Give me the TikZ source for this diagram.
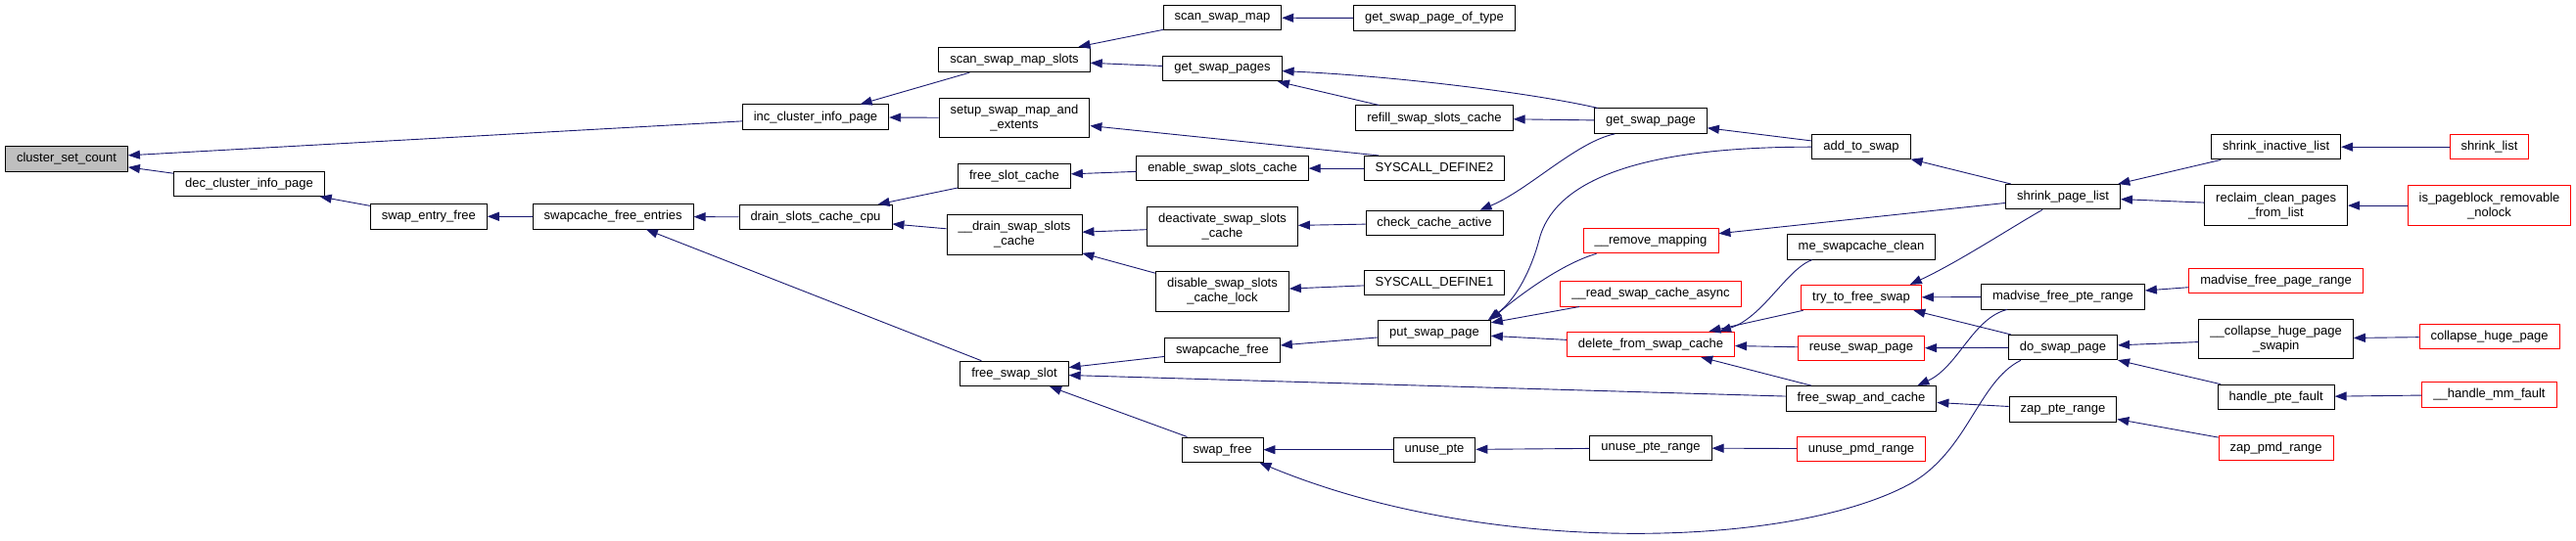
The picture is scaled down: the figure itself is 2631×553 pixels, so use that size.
\documentclass[tikz,border=0pt]{standalone}
\usepackage{fontspec}
\setmainfont{Liberation Sans}
\usetikzlibrary{positioning, arrows.meta}
\definecolor{edgeblue}{RGB}{25,25,112}
\definecolor{rootgray}{RGB}{191,191,191}

\begin{document}
\begin{tikzpicture}[
  x=1pt, y=-1pt,
  fn/.style={rectangle, draw=black, line width=0.9pt, fill=white,
             font=\fontsize{13}{15}\selectfont, inner xsep=11.5pt,
             inner ysep=1pt, minimum height=25.5pt, align=center},
  fn2/.style={fn, minimum height=40.5pt},
  trunc/.style={draw=red},
  root/.style={fill=rootgray},
  arr/.style={-{Triangle[length=12pt, width=9pt]}, draw=edgeblue,
              line width=0.9pt}
]
  \useasboundingbox (0,0) rectangle (2631,553);

  % Root and first ranks
  \node[fn, root] (csc)  at (68,162.3)    {cluster\_set\_count};
  \node[fn]       (dcip) at (254.5,187.8) {dec\_cluster\_info\_page};
  \node[fn]       (sef)  at (437.8,221.3) {swap\_entry\_free};
  \node[fn]       (sfe)  at (626.2,221.3) {swapcache\_free\_entries};
  \node[fn]       (icip) at (833,119.7)   {inc\_cluster\_info\_page};
  \node[fn, below=76pt of icip] (dscc) {drain\_slots\_cache\_cpu};

  % Column of scan_swap_map_slots
  \node[fn] (smsl) at (1036,61) {scan\_swap\_map\_slots};
  \node[fn2, below=25.7pt of smsl] (ssme) {setup\_swap\_map\_and\\\_extents};
  \node[fn, below=25.5pt of ssme]  (fsc)  {free\_slot\_cache};
  \node[fn2, below=26pt of fsc]    (dss)  {\_\_drain\_swap\_slots\\\_cache};
  \node[fn, below=108.1pt of dss]  (fss)  {free\_swap\_slot};

  % Column of scan_swap_map
  \node[fn] (ssm) at (1248.5,18.2) {scan\_swap\_map};
  \node[fn, below=25.5pt of ssm]    (gsps)  {get\_swap\_pages};
  \node[fn, below=75.6pt of gsps]   (essc)  {enable\_swap\_slots\_cache};
  \node[fn2, below=25.7pt of essc]  (dssc)  {deactivate\_swap\_slots\\\_cache};
  \node[fn2, below=24.8pt of dssc]  (dsscl) {disable\_swap\_slots\\\_cache\_lock};
  \node[fn, below=25.9pt of dsscl]  (scf)   {swapcache\_free};
  \node[fn, below=75.6pt of scf]    (swf)   {swap\_free};

  % Column of get_swap_page_of_type
  \node[fn] (gspt) at (1465,18.5) {get\_swap\_page\_of\_type};
  \node[fn, below=75.8pt of gspt] (rssc) {refill\_swap\_slots\_cache};
  \node[fn, below=25pt of rssc]   (sd2)  {SYSCALL\_DEFINE2};
  \node[fn, below=29.4pt of sd2]  (cca)  {check\_cache\_active};
  \node[fn, below=34.6pt of cca]  (sd1)  {SYSCALL\_DEFINE1};
  \node[fn, below=25pt of sd1]    (psp)  {put\_swap\_page};
  \node[fn, below=93pt of psp]    (upte) {unuse\_pte};

  % Column of get_swap_page
  \node[fn] (gsp) at (1686,123.7) {get\_swap\_page};
  \node[fn, trunc, below=96pt of gsp]    (rmap) {\_\_remove\_mapping};
  \node[fn, trunc, below=27.8pt of rmap] (rsca) {\_\_read\_swap\_cache\_async};
  \node[fn, trunc, below=25.2pt of rsca] (dfsc) {delete\_from\_swap\_cache};
  \node[fn, below=79.6pt of dfsc]        (uptr) {unuse\_pte\_range};

  % Column of add_to_swap
  \node[fn] (ats) at (1901,150.2) {add\_to\_swap};
  \node[fn, below=75.8pt of ats]        (msc)  {me\_swapcache\_clean};
  \node[fn, trunc, below=25.3pt of msc] (tfs)  {try\_to\_free\_swap};
  \node[fn, trunc, below=25.5pt of tfs] (rsp)  {reuse\_swap\_page};
  \node[fn, below=24.9pt of rsp]        (fsac) {free\_swap\_and\_cache};
  \node[fn, trunc, below=25.1pt of fsac] (upmd) {unuse\_pmd\_range};

  % Column of shrink_page_list
  \node[fn] (spl) at (2107,201.2) {shrink\_page\_list};
  \node[fn, below=75.6pt of spl]  (mfpr) {madvise\_free\_pte\_range};
  \node[fn, below=25.5pt of mfpr] (dsp)  {do\_swap\_page};
  \node[fn, below=37pt of dsp]    (zpte) {zap\_pte\_range};

  % Column of shrink_inactive_list
  \node[fn] (sil) at (2324.6,150.2) {shrink\_inactive\_list};
  \node[fn2, below=26pt of sil]          (rcpl)  {reclaim\_clean\_pages\\\_from\_list};
  \node[fn, trunc, below=43.1pt of rcpl] (mfpg)  {madvise\_free\_page\_range};
  \node[fn2, below=25.4pt of mfpg]       (chpsw) {\_\_collapse\_huge\_page\\\_swapin};
  \node[fn, below=25.6pt of chpsw]       (hpf)   {handle\_pte\_fault};
  \node[fn, trunc, below=25.4pt of hpf]  (zpmd)  {zap\_pmd\_range};

  % Last column
  \node[fn, trunc] (shl) at (2542.5,150.2) {shrink\_list};
  \node[fn2, trunc, below=26pt of shl] (ipbr) {is\_pageblock\_removable\\\_nolock};
  \node[fn, trunc] (chp) at (2542.5,343.8) {collapse\_huge\_page};
  \node[fn, trunc, below=33pt of chp]  (hmmf) {\_\_handle\_mm\_fault};

  % Callers
  \draw[arr] (icip) -- (csc);
  \draw[arr] (dcip) -- (csc);
  \draw[arr] (sef) -- (dcip);
  \draw[arr] (sfe) -- (sef);
  \draw[arr] (dscc) -- (sfe);
  \draw[arr] (fss) -- (sfe);
  \draw[arr] (smsl) -- (icip);
  \draw[arr] (ssme) -- (icip);
  \draw[arr] (fsc) -- (dscc);
  \draw[arr] (dss) -- (dscc);
  \draw[arr] (ssm) -- (smsl);
  \draw[arr] (gsps) -- (smsl);
  \draw[arr] (essc) -- (fsc);
  \draw[arr] (dssc) -- (dss);
  \draw[arr] (dsscl) -- (dss);
  \draw[arr] (scf) -- (fss);
  \draw[arr] (swf) -- (fss);
  \draw[arr] (fsac) -- (fss);
  \draw[arr] (gspt) -- (ssm);
  \draw[arr] ([xshift=4pt]gsp.north west) .. controls (1570,96) and (1430,78)
             .. ([yshift=-2.5pt]gsps.east);
  \draw[arr] (rssc) -- (gsps);
  \draw[arr] ([xshift=15pt]sd2.north west) -- (ssme);
  \draw[arr] (sd2) -- (essc);
  \draw[arr] (cca) -- (dssc);
  \draw[arr] (sd1) -- (dsscl);
  \draw[arr] (psp) -- (scf);
  \draw[arr] (upte) -- (swf);
  \draw[arr] (gsp) -- (rssc);
  \draw[arr] ([xshift=21pt]gsp.south west) .. controls (1610,145) and (1560,195)
             .. ([xshift=-24pt]cca.north east);
  \draw[arr] (ats) -- (gsp);
  \draw[arr] (ats.west) .. controls (1700,150) and (1590,175) .. (1572,245)
             .. controls (1565,272) and (1550,305) .. ([xshift=-3pt]psp.north east);
  \draw[arr] ([xshift=14pt]rmap.south west) .. controls (1600,268) and (1560,295)
             .. ([xshift=-1pt]psp.north east);
  \draw[arr] (rsca) -- (psp);
  \draw[arr] (dfsc) -- (psp);
  \draw[arr] (uptr) -- (upte);
  \draw[arr] (spl) -- (ats);
  \draw[arr] (spl) -- (rmap);
  \draw[arr] ([xshift=26pt]msc.south west) .. controls (1825,275) and (1800,325)
             .. ([xshift=-16pt]dfsc.north east);
  \draw[arr] (tfs) -- (dfsc);
  \draw[arr] (rsp) -- (dfsc);
  \draw[arr] (fsac) -- (dfsc);
  \draw[arr] (upmd) -- (uptr);
  \draw[arr] ([xshift=38pt]spl.south west) .. controls (2055,232) and (2000,268)
             .. ([xshift=-12pt]tfs.north east);
  \draw[arr] (mfpr) -- (tfs);
  \draw[arr] (dsp) -- (tfs);
  \draw[arr] (dsp) -- (rsp);
  \draw[arr] ([xshift=27pt]mfpr.south west) .. controls (2015,325) and (2000,375)
             .. ([xshift=-20pt]fsac.north east);
  \draw[arr] (zpte) -- (fsac);
  \draw[arr] ([xshift=13pt]dsp.south west) .. controls (2020,390) and (2010,462)
             .. (1950,495) .. controls (1830,560) and (1520,570)
             .. ([xshift=-4pt]swf.south east);
  \draw[arr] (sil) -- (spl);
  \draw[arr] (rcpl) -- (spl);
  \draw[arr] (mfpg) -- (mfpr);
  \draw[arr] (chpsw) -- (dsp);
  \draw[arr] (hpf) -- (dsp);
  \draw[arr] (zpmd) -- (zpte);
  \draw[arr] (shl) -- (sil);
  \draw[arr] (ipbr) -- (rcpl);
  \draw[arr] (chp) -- (chpsw);
  \draw[arr] (hmmf) -- (hpf);
\end{tikzpicture}
\end{document}
